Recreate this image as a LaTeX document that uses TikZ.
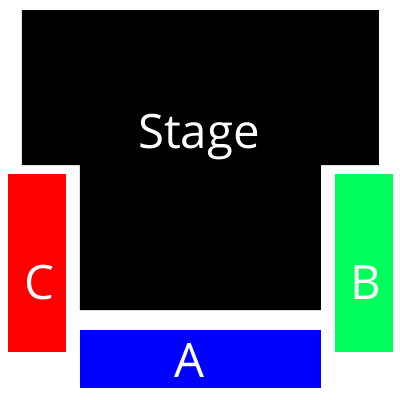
\documentclass[tikz,border=0pt]{standalone}
\usepackage{fontspec}
\setmainfont{Open Sans}
\usetikzlibrary{positioning}
\definecolor{sectionRed}{HTML}{FF0000}
\definecolor{sectionGreen}{HTML}{00FF5A}
\definecolor{sectionBlue}{HTML}{0000FF}
\tikzset{
  sectext/.style={white,anchor=base,inner sep=0pt,font=\fontsize{27}{30}\selectfont}
}
\begin{document}
\begin{tikzpicture}[x=0.02cm,y=-0.02cm]
\fill[white] (0,0) rectangle (400,400);
% stage
\fill[black] (22,10)--(379,10)--(379,165)--(321,165)--(321,310)--(80,310)--(80,165)--(22,165)--cycle;
\node[sectext] (stage) at (199,148) {Stage};
% sections
\fill[sectionRed] (8,174) rectangle (66,352);
\fill[sectionGreen] (335,174) rectangle (393,352);
\fill[sectionBlue] (80,330) rectangle (321,388);
\node[sectext] (secC) at (39,299) {C};
\node[sectext] (secB) at (366,299) {B};
\node[sectext] (secA) at (190,377) {A};
\end{tikzpicture}
\end{document}
